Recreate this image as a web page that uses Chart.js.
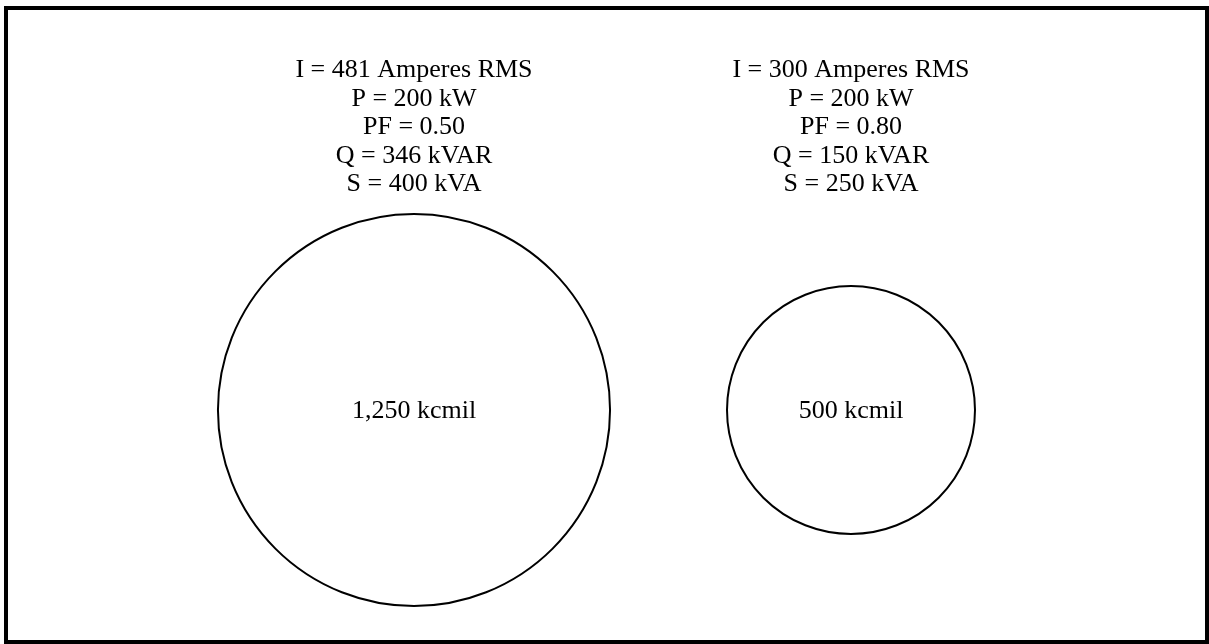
<!DOCTYPE html>
<html>
<head>
<meta charset="utf-8">
<script src="https://cdn.jsdelivr.net/npm/chart.js@4/dist/chart.umd.min.js"></script>
<style>
  html, body { margin: 0; padding: 0; background: #fff; }
  #wrap { position: relative; width: 1209px; height: 644px; }
</style>
</head>
<body>
<div id="wrap"><canvas id="chart"></canvas></div>
<script>
// two conductors carrying the same 200 kW at different power factors
const cableSizes = ['1,250 kcmil', '500 kcmil']
const kcmil = [1250, 500]
const currents = [481, 300]
const realPower = [200, 200]
const powerFactor = [0.50, 0.80]
const reactivePower = [346, 150]
const apparentPower = [400, 250]

const font = '26px "Liberation Serif", "Times New Roman", serif'
const pxPerRootKcmil = 5.545 // circle area ~ conductor cross-section

function infoLines(i) {
  return [
    'I = ' + currents[i] + ' Amperes RMS',
    'P = ' + realPower[i] + ' kW',
    'PF = ' + powerFactor[i].toFixed(2),
    'Q = ' + reactivePower[i] + ' kVAR',
    'S = ' + apparentPower[i] + ' kVA',
  ]
}

const labelsPlugin = {
  id: 'cableLabels',
  afterDatasetsDraw(chart) {
    const ctx = chart.ctx
    const xs = chart.scales.x
    const ys = chart.scales.y
    ctx.save()
    ctx.font = font
    ctx.fillStyle = '#000'
    ctx.textAlign = 'center'
    ctx.textBaseline = 'alphabetic'
    cableSizes.forEach((name, i) => {
      const cx = xs.getPixelForValue(i + 1)
      const cy = ys.getPixelForValue(0)
      infoLines(i).forEach((line, j) => {
        ctx.fillText(line, cx, 77 + j * 28.5)
      })
      ctx.fillText(name, cx, cy + 8)
    })
    ctx.restore()
  },
  afterDraw(chart) {
    const ctx = chart.ctx
    ctx.save()
    ctx.strokeStyle = '#000'
    ctx.lineWidth = 4
    ctx.strokeRect(6, 8, 1201, 634)
    ctx.restore()
  }
}

const ctx = document.getElementById('chart').getContext('2d')
new Chart(ctx, {
  type: 'bubble',
  data: {
    datasets: [{
      data: kcmil.map((k, i) => ({ x: i + 1, y: 0, r: pxPerRootKcmil * Math.sqrt(k) })),
      backgroundColor: 'rgba(0,0,0,0)',
      borderColor: '#000',
      borderWidth: 2,
      hoverRadius: 0,
      clip: false,
    }]
  },
  options: {
    responsive: true,
    maintainAspectRatio: false,
    animation: false,
    events: [],
    layout: {
      autoPadding: false,
      padding: { left: 195.5, right: 139.5, top: 176, bottom: 0 }
    },
    scales: {
      x: { type: 'linear', min: 0.5, max: 2.5, display: false },
      y: { type: 'linear', min: -1, max: 1, display: false },
    },
    plugins: {
      legend: { display: false },
      tooltip: { enabled: false },
    }
  },
  plugins: [labelsPlugin],
})
</script>
</body>
</html>
